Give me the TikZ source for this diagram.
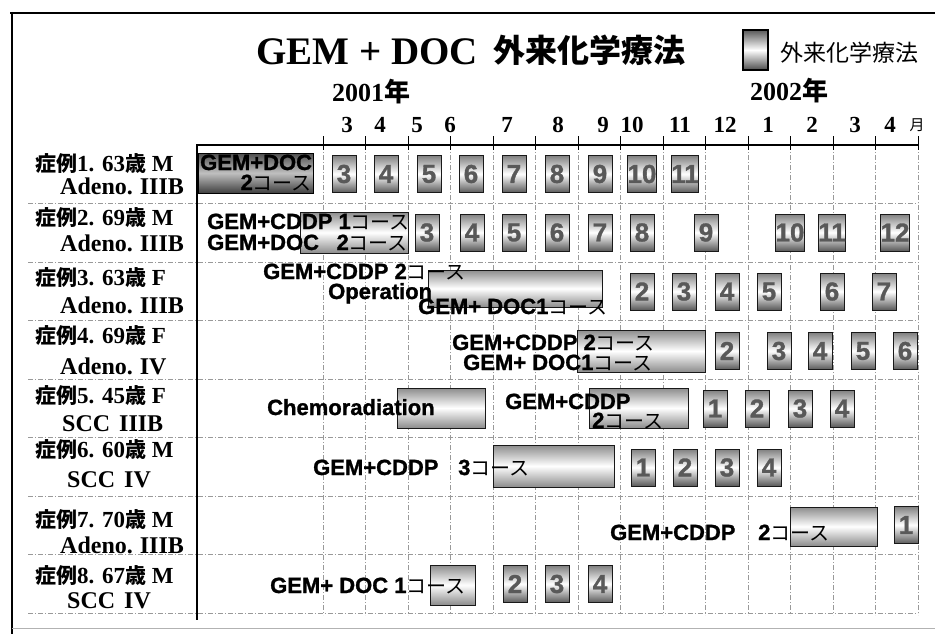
\documentclass[tikz,border=0pt]{standalone}
\usepackage{fontspec}
\setmainfont{Liberation Serif}
\setsansfont{Liberation Sans}[BoldFeatures={FakeBold=1.2}]
\newfontfamily\jp{Noto Sans CJK JP}
\newcommand\fsz[1]{\fontsize{#1}{#1}\selectfont}
\newcommand\kosu{{\jp\mdseries\fsz{20}コース}}
\tikzset{
  gridv/.style={black!40, dash pattern=on 5pt off 2pt on 1pt off 2pt, line width=0.6pt},
  gridh/.style={black!40, dash pattern=on 5pt off 2pt on 1pt off 2pt, line width=0.6pt},
  numbox/.style={draw=black!90, line width=0.9pt, minimum width=24pt, minimum height=37pt,
    inner sep=0pt, top color=black!50, bottom color=black!65, middle color=white,
    text=black!65, font=\sffamily\bfseries\fsz{26}},
  bigbox/.style={draw=black!90, line width=0.9pt, inner sep=0pt,
    top color=black!45, bottom color=black!45, middle color=white},
  darkbox/.style={draw=black, line width=1pt, inner sep=0pt,
    top color=black!70, bottom color=black!75, middle color=black!25},
  boxtxt/.style={anchor=base west, inner sep=0pt, font=\sffamily\bfseries\fsz{22}},
  rowa/.style={anchor=base west, inner sep=0pt, font=\rmfamily\bfseries\fsz{23}},
  rowb/.style={anchor=base west, inner sep=0pt, font=\rmfamily\bfseries\fsz{24}},
  monthlab/.style={anchor=base, inner sep=0pt, font=\rmfamily\bfseries\fsz{23}},
}
\begin{document}
\begin{tikzpicture}[x=1pt,y=-1pt]
\useasboundingbox (0,0) rectangle (935,634);
\fill[white] (0,0) rectangle (935,634);

% outer frame
\draw[line width=2pt] (10,13) -- (935,13);
\draw[line width=2.5pt] (12,12) -- (12,634);
\draw[black!30, line width=0.8pt] (12,628) -- (935,628);

% grid
\foreach \yy in {203.5,262,320.5,379,437.5,496,554.5,613}
  \draw[gridh] (28,\yy) -- (918,\yy);
\foreach \i in {0,...,14}
  \draw[gridv] ({323+42.5*\i},145) -- ({323+42.5*\i},615);
\draw[line width=1.1pt] (197,144) -- (197,620);
\draw[line width=1.1pt] (197,145) -- (918,145);
\foreach \i in {0,...,14}
  \draw[line width=1pt] ({323+42.5*\i},136) -- ({323+42.5*\i},150);

% title
\node[anchor=base west, inner sep=0pt, font=\rmfamily\bfseries\fsz{39}] (title1) at (256,65) {GEM + DOC};
\node[anchor=base west, inner sep=0pt, font=\jp\bfseries\fsz{32}] (title2) at (493,63) {外来化学療法};
\node[draw=black, line width=1.2pt, minimum width=25pt, minimum height=40pt, inner sep=0pt,
  top color=black!65, bottom color=black!70, middle color=white] (legbox) at (755.5,50) {};
\node[anchor=west, inner sep=0pt, font=\jp\fsz{23}] (legtxt) at (780,53) {外来化学療法};

% years and months
\node[anchor=base west, inner sep=0pt, font=\rmfamily\bfseries\fsz{26}] (y2001) at (332,102) {2001{\jp 年}};
\node[anchor=base west, inner sep=0pt, font=\rmfamily\bfseries\fsz{26}] (y2002) at (750,100) {2002{\jp 年}};
\foreach \m/\xx [count=\k] in {3/347,4/380,5/417,6/450,7/507,8/558,9/603,10/632,11/680,12/725,1/768,2/812,3/855,4/890}
  \node[monthlab] (mon\k) at (\xx,132) {\m};
\node[anchor=base, inner sep=0pt, font=\jp\fsz{15}] (monunit) at (917,131) {月};

% row labels
\foreach \a/\b/\ya [count=\k] in {
  1. 63/M/171, 2. 69/M/225, 3. 63/F/285, 4. 69/F/343,
  5. 45/F/403, 6. 60/M/457, 7. 70/M/527, 8. 67/M/583}
  \node[rowa] (lab\k a) at (35,\ya) {{\jp\fsz{21}症例}\a{\jp\fsz{21}歳} \b};
\node[rowb] (lab1b) at (60,194) {Adeno.\hspace{7pt}IIIB};
\node[rowb] (lab2b) at (60,251) {Adeno.\hspace{7pt}IIIB};
\node[rowb] (lab3b) at (60,313) {Adeno.\hspace{7pt}IIIB};
\node[rowb] (lab4b) at (60,374) {Adeno.\hspace{7pt}IV};
\node[rowb] (lab5b) at (62,431) {SCC\hspace{9pt}IIIB};
\node[rowb] (lab6b) at (67,487) {SCC\hspace{9pt}IV};
\node[rowb] (lab7b) at (60,553) {Adeno.\hspace{7pt}IIIB};
\node[rowb] (lab8b) at (67,608) {SCC\hspace{9pt}IV};

% course boxes
\node[darkbox, minimum width=115pt, minimum height=40pt] (c1) at (255.5,173) {};
\node[bigbox, minimum width=108pt, minimum height=41pt] (c2) at (354,232.5) {};
\node[bigbox, minimum width=174pt, minimum height=37pt] (c3) at (515,288.5) {};
\node[bigbox, minimum width=128pt, minimum height=42pt] (c4) at (641,351) {};
\node[bigbox, minimum width=88pt, minimum height=40pt] (c5a) at (441,408) {};
\node[bigbox, minimum width=99pt, minimum height=40pt] (c5b) at (638.5,408) {};
\node[bigbox, minimum width=121pt, minimum height=42pt] (c6) at (553.5,466) {};
\node[bigbox, minimum width=87pt, minimum height=39pt] (c7) at (833.5,526.5) {};
\node[bigbox, minimum width=45pt, minimum height=40pt] (c8) at (452.5,585) {};

% number boxes
\foreach \n/\xx in {3/344,4/386,5/429,6/471,7/514,8/557,9/600,10/642,11/685}
  \node[numbox] (ra\n) at (\xx,174) {\n};
\foreach \n/\xx in {3/427,4/472,5/514,6/557,7/600,8/642,9/706,10/790,11/832,12/895}
  \node[numbox] (rb\n) at (\xx,232.5) {\n};
\foreach \n/\xx in {2/642,3/684,4/727,5/769,6/832,7/884}
  \node[numbox] (rc\n) at (\xx,291.5) {\n};
\foreach \n/\xx in {2/727,3/779,4/820,5/863,6/905}
  \node[numbox] (rd\n) at (\xx,351) {\n};
\foreach \n/\xx in {1/715,2/757,3/800,4/842}
  \node[numbox] (re\n) at (\xx,408.5) {\n};
\foreach \n/\xx in {1/643,2/685,3/727,4/769}
  \node[numbox] (rf\n) at (\xx,467.5) {\n};
\node[numbox] (rg1) at (906,525) {1};
\foreach \n/\xx in {2/515,3/557,4/600}
  \node[numbox] (rh\n) at (\xx,584) {\n};

% box texts
\node[boxtxt] (t1a) at (200,170) {GEM+DOC};
\node[boxtxt, anchor=base east] (t1b) at (312,190) {2\kosu};
\node[boxtxt] (t2a) at (207,229) {GEM+CDDP 1\kosu};
\node[boxtxt] (t2b) at (207,250) {GEM+DOC};
\node[boxtxt, anchor=base east] (t2c) at (408,250) {2\kosu};
\node[boxtxt] (t3a) at (263,279) {GEM+CDDP 2\kosu};
\node[boxtxt] (t3b) at (328,299) {Operation};
\node[boxtxt] (t3c) at (418,314) {GEM+ DOC1\kosu};
\node[boxtxt] (t4a) at (452,350) {GEM+CDDP 2\kosu};
\node[boxtxt] (t4b) at (463,370) {GEM+ DOC1\kosu};
\node[boxtxt] (t5a) at (267,415) {Chemoradiation};
\node[boxtxt] (t5b) at (505,409) {GEM+CDDP};
\node[boxtxt] (t5c) at (592,428) {2\kosu};
\node[boxtxt] (t6a) at (313,475) {GEM+CDDP};
\node[boxtxt] (t6b) at (458,475) {3\kosu};
\node[boxtxt] (t7a) at (610,540) {GEM+CDDP};
\node[boxtxt] (t7b) at (758,540) {2\kosu};
\node[boxtxt] (t8a) at (270,593) {GEM+ DOC 1\kosu};
\end{tikzpicture}
\end{document}
